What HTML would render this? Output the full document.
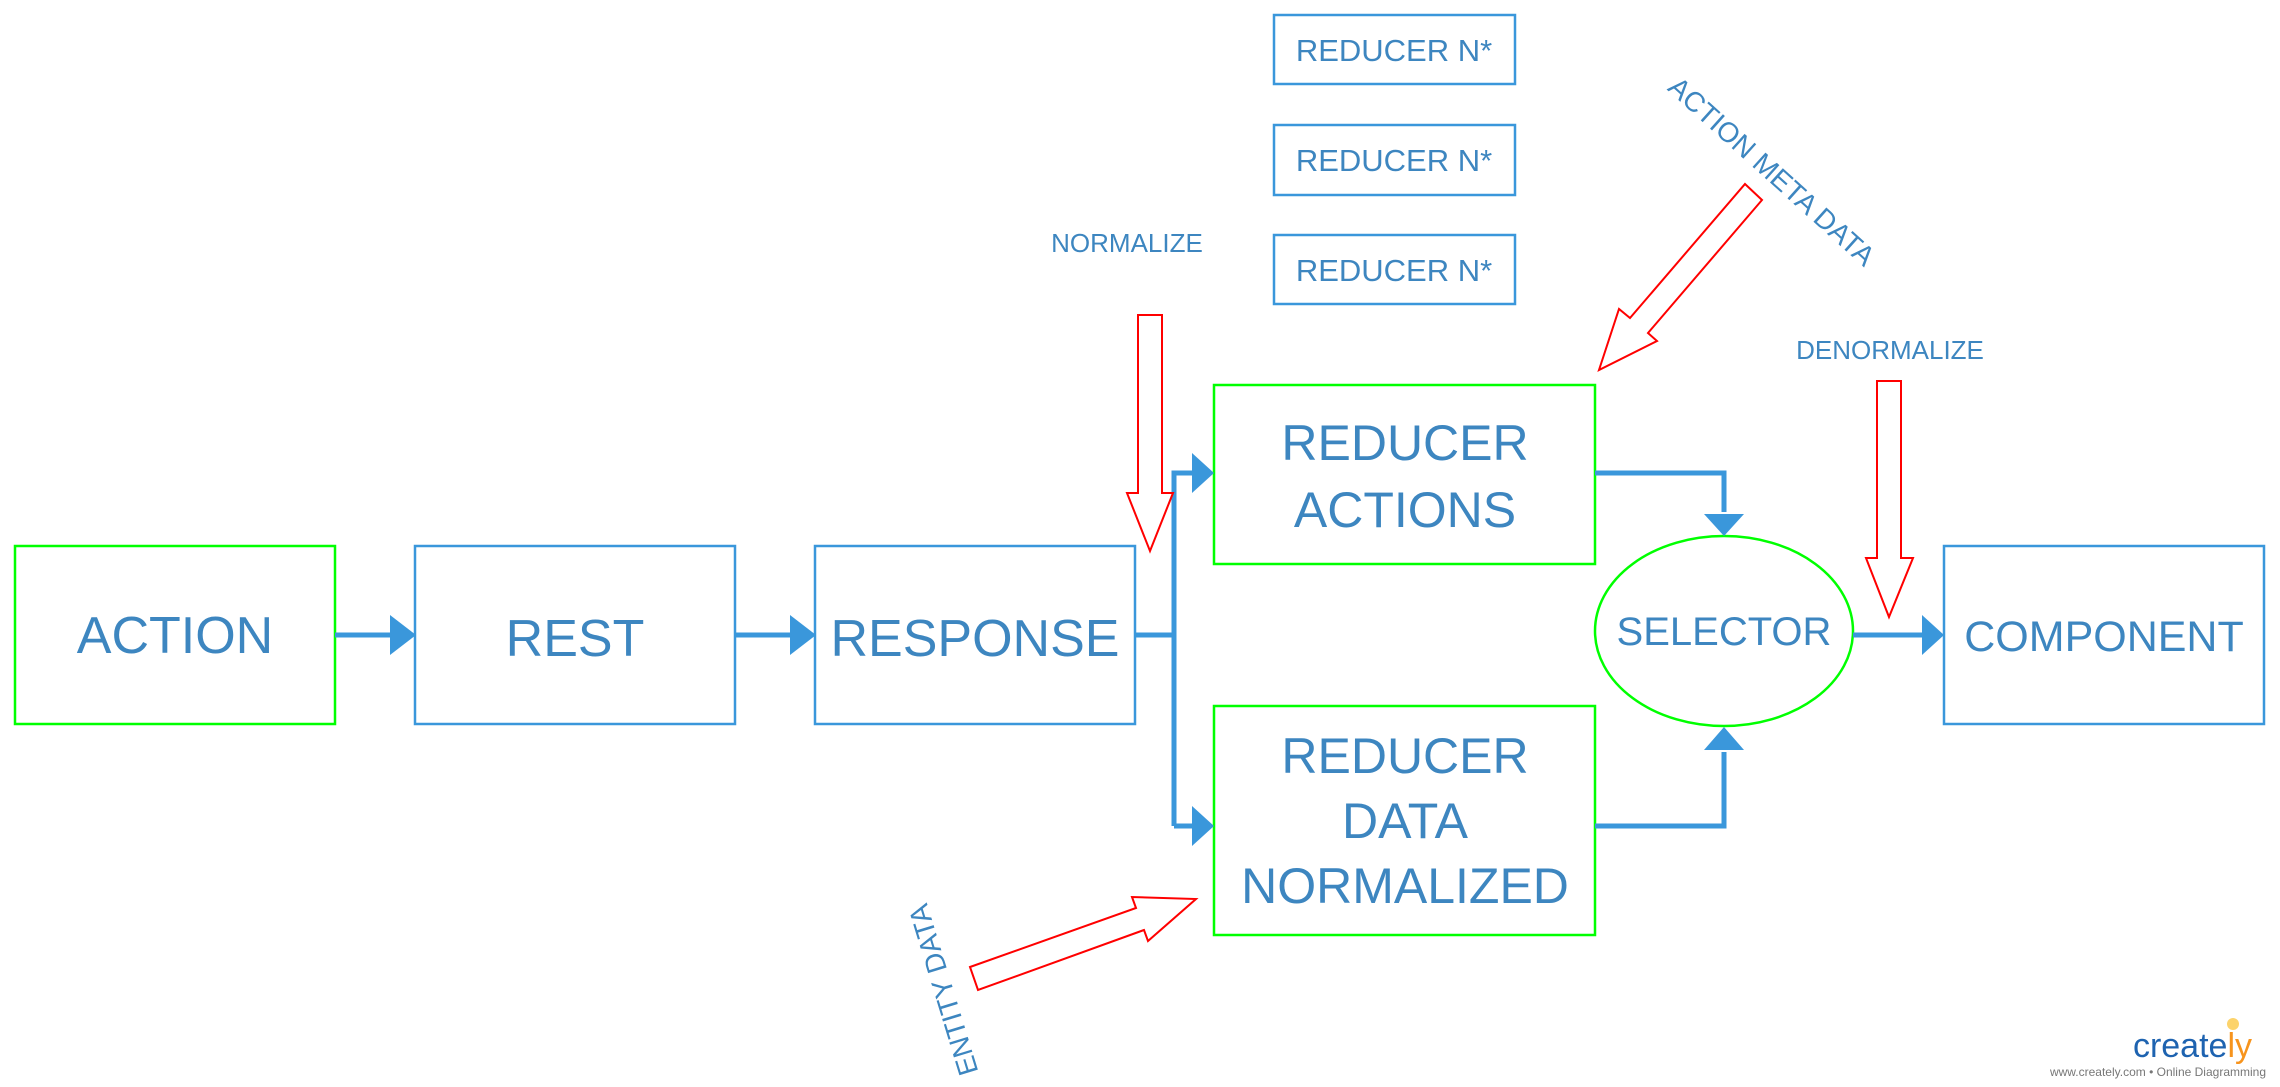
<!DOCTYPE html>
<html><head><meta charset="utf-8"><style>
html,body{margin:0;padding:0;background:#fff;}
svg{display:block;}
text{font-family:"Liberation Sans",sans-serif;fill:#3d86c0;}
</style></head><body>
<svg width="2280" height="1087" viewBox="0 0 2280 1087" xmlns="http://www.w3.org/2000/svg">
<g fill="none" stroke-width="2.5">
<rect x="15" y="546" width="320" height="178" stroke="#00ff00"/>
<rect x="415" y="546" width="320" height="178" stroke="#3a97db"/>
<rect x="815" y="546" width="320" height="178" stroke="#3a97db"/>
<rect x="1214" y="385" width="381" height="179" stroke="#00ff00"/>
<rect x="1214" y="706" width="381" height="229" stroke="#00ff00"/>
<ellipse cx="1724" cy="631" rx="129" ry="95" stroke="#00ff00"/>
<rect x="1944" y="546" width="320" height="178" stroke="#3a97db"/>
<rect x="1274" y="15" width="241" height="69" stroke="#3a97db"/>
<rect x="1274" y="125" width="241" height="70" stroke="#3a97db"/>
<rect x="1274" y="235" width="241" height="69" stroke="#3a97db"/>
</g>
<g fill="none" stroke="#3a97db" stroke-width="5">
<line x1="335" y1="635" x2="390" y2="635"/>
<line x1="735" y1="635" x2="790" y2="635"/>
<polyline points="1135,635 1174,635"/>
<polyline points="1174,826 1174,473 1192,473"/>
<polyline points="1174,826 1192,826"/>
<polyline points="1595,473 1724,473 1724,512"/>
<polyline points="1595,826 1724,826 1724,752"/>
<line x1="1853" y1="635" x2="1922" y2="635"/>
</g>
<g fill="#3a97db">
<path d="M390,615 L416,635 L390,655z"/>
<path d="M790,615 L816,635 L790,655z"/>
<path d="M1192,453 L1214,473 L1192,493z"/>
<path d="M1192,806 L1214,826 L1192,846z"/>
<path d="M1704,514 L1724,536 L1744,514z"/>
<path d="M1704,750 L1724,727 L1744,750z"/>
<path d="M1922,615 L1944,635 L1922,655z"/>
</g>
<g fill="none" stroke="#ff0000" stroke-width="2">
<polygon points="1138,315 1162,315 1162,493 1173,493 1150,551 1127,493 1138,493"/>
<polygon points="1877,381 1901,381 1901,558 1913,558 1889,617 1866,558 1877,558"/>
<polygon points="1745,184 1762,200 1648,333 1657,341 1599,370 1619,309 1630,318"/>
<polygon points="970,967 1136,908 1132,897 1196,899 1148,941 1144,930 978,990"/>
</g>
<g text-anchor="middle">
<text x="175" y="653" font-size="52">ACTION</text>
<text x="575" y="656" font-size="52">REST</text>
<text x="975" y="656" font-size="52">RESPONSE</text>
<text x="1405" y="460" font-size="50">REDUCER</text>
<text x="1405" y="527" font-size="50">ACTIONS</text>
<text x="1405" y="773" font-size="50">REDUCER</text>
<text x="1405" y="838" font-size="50">DATA</text>
<text x="1405" y="903" font-size="50">NORMALIZED</text>
<text x="1724" y="645" font-size="40">SELECTOR</text>
<text x="2104" y="651" font-size="43">COMPONENT</text>
<text x="1394" y="61" font-size="31">REDUCER N*</text>
<text x="1394" y="171" font-size="31">REDUCER N*</text>
<text x="1394" y="281" font-size="31">REDUCER N*</text>
<text x="1127" y="252" font-size="26">NORMALIZE</text>
<text x="1890" y="359" font-size="26">DENORMALIZE</text>
<text x="0" y="0" font-size="28" transform="translate(1772,171) rotate(42) translate(0,10)">ACTION META DATA</text>
<text x="0" y="0" font-size="28" transform="translate(943,990) rotate(-107) translate(0,10)">ENTITY DATA</text>
</g>
<text x="2252" y="1057" font-size="34" text-anchor="end" style="fill:#1e63b0">create<tspan style="fill:#f7941d">ly</tspan></text>
<circle cx="2233" cy="1024" r="6" fill="#fcd36b"/>
<text x="2266" y="1076" font-size="12" text-anchor="end" style="fill:#777">www.creately.com • Online Diagramming</text>
</svg>
</body></html>
